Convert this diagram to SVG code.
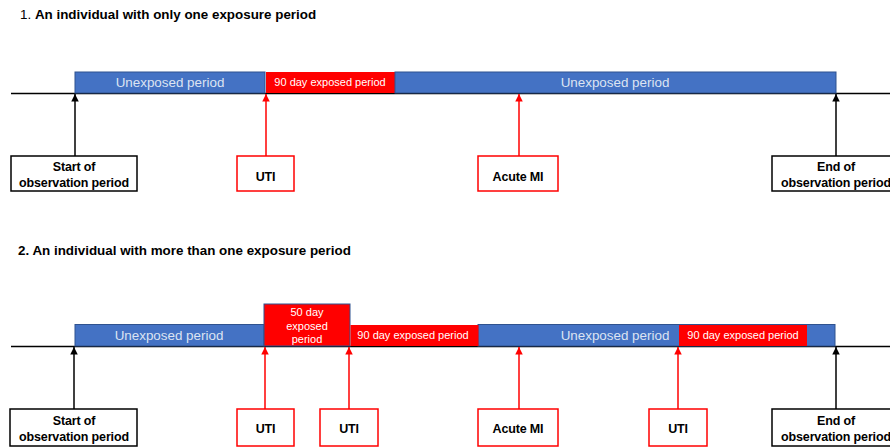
<svg xmlns="http://www.w3.org/2000/svg" width="890" height="448" viewBox="0 0 890 448">
<style>
.title{font-family:"Liberation Sans",Arial,sans-serif;font-size:13.4px;font-weight:bold;fill:#000}
.tl{stroke:#000;stroke-width:1.5;fill:none}
.blue{fill:#4472C4;stroke:#2F528F;stroke-width:1}
.red{fill:#FF0000;stroke:none}
.redb{fill:#FF0000;stroke:#2F528F;stroke-width:1}
.ut{font-family:"Liberation Sans",Arial,sans-serif;font-size:13.4px;fill:#DCE4F2;text-anchor:middle}
.et{font-family:"Liberation Sans",Arial,sans-serif;font-size:11px;fill:#FFFFFF;text-anchor:middle}
.bbox{fill:#fff;stroke:#000;stroke-width:1.5}
.rbox{fill:#fff;stroke:#FF0000;stroke-width:1.5}
.lbl{font-family:"Liberation Sans",Arial,sans-serif;font-size:12.5px;font-weight:bold;fill:#000;text-anchor:middle;letter-spacing:-0.15px}
.ab{stroke:#000;stroke-width:1.5;fill:none}
.ar{stroke:#FF0000;stroke-width:1.5;fill:none}
</style>
<defs>
<marker id="mb" viewBox="0 0 8 8" refX="8" refY="4" markerWidth="5" markerHeight="5" orient="auto" markerUnits="strokeWidth"><path d="M0,0 L8,4 L0,8 z" fill="#000"/></marker>
<marker id="mr" viewBox="0 0 8 8" refX="8" refY="4" markerWidth="5" markerHeight="5" orient="auto" markerUnits="strokeWidth"><path d="M0,0 L8,4 L0,8 z" fill="#FF0000"/></marker>
</defs>

<!-- Diagram 1 -->
<text class="title" x="20" y="19"><tspan font-weight="normal">1. </tspan>An individual with only one exposure period</text>
<line class="tl" x1="11" y1="93.5" x2="890" y2="93.5"/>
<g id="d1-unexp1"><rect class="blue" x="75" y="72" width="190" height="21"/><text class="ut" x="170" y="87">Unexposed period</text></g>
<g id="d1-exp90"><rect class="red" x="266" y="72" width="129" height="21"/><text class="et" x="330" y="86">90 day exposed period</text></g>
<g id="d1-unexp2"><rect class="blue" x="395" y="72" width="441" height="21"/><text class="ut" x="615" y="87">Unexposed period</text></g>

<g id="d1-start"><rect class="bbox" x="11" y="156" width="126" height="35"/><text class="lbl" x="74" y="171">Start of</text><text class="lbl" x="74" y="187">observation period</text></g>
<g id="d1-uti"><rect class="rbox" x="237" y="156" width="57" height="35"/><text class="lbl" x="265.5" y="181">UTI</text></g>
<g id="d1-ami"><rect class="rbox" x="478" y="156" width="80" height="35"/><text class="lbl" x="518" y="181">Acute MI</text></g>
<g id="d1-end"><rect class="bbox" x="772" y="156" width="127" height="35"/><text class="lbl" x="836" y="171">End of</text><text class="lbl" x="836" y="187">observation period</text></g>

<g id="connectors1">
<line class="ab" x1="75" y1="156" x2="75" y2="94" marker-end="url(#mb)"/>
<line class="ar" x1="266" y1="156" x2="266" y2="94" marker-end="url(#mr)"/>
<line class="ar" x1="519" y1="156" x2="519" y2="94" marker-end="url(#mr)"/>
<line class="ab" x1="836" y1="156" x2="836" y2="94" marker-end="url(#mb)"/>
</g>

<!-- Diagram 2 -->
<text class="title" x="18" y="255">2. An individual with more than one exposure period</text>
<line class="tl" x1="11" y1="346.5" x2="890" y2="346.5"/>
<g id="d2-unexp1"><rect class="blue" x="75" y="324.5" width="189" height="21.5"/><text class="ut" x="169" y="340">Unexposed period</text></g>
<g id="d2-unexp2"><rect class="blue" x="478" y="324.5" width="357" height="21.5"/><text class="ut" x="615" y="340">Unexposed period</text></g>
<g id="d2-exp50"><rect class="redb" x="264" y="304" width="86" height="42"/><text class="et" x="307" y="316">50 day</text><text class="et" x="307" y="329.5">exposed</text><text class="et" x="307" y="343">period</text></g>
<g id="d2-exp90a"><rect class="red" x="350.5" y="325" width="128" height="21"/><text class="et" x="413" y="339">90 day exposed period</text></g>
<g id="d2-exp90b"><rect class="red" x="679" y="325" width="128" height="21"/><text class="et" x="743" y="339">90 day exposed period</text></g>

<g id="d2-start"><rect class="bbox" x="10" y="409" width="127" height="37"/><text class="lbl" x="74" y="425">Start of</text><text class="lbl" x="74" y="441">observation period</text></g>
<g id="d2-uti1"><rect class="rbox" x="237" y="409" width="57" height="37"/><text class="lbl" x="265.5" y="433">UTI</text></g>
<g id="d2-uti2"><rect class="rbox" x="320" y="409" width="58" height="37"/><text class="lbl" x="349" y="433">UTI</text></g>
<g id="d2-ami"><rect class="rbox" x="478" y="409" width="80" height="37"/><text class="lbl" x="518" y="433">Acute MI</text></g>
<g id="d2-uti3"><rect class="rbox" x="649" y="409" width="58" height="37"/><text class="lbl" x="678" y="433">UTI</text></g>
<g id="d2-end"><rect class="bbox" x="772" y="409" width="127" height="37"/><text class="lbl" x="836" y="425">End of</text><text class="lbl" x="836" y="441">observation period</text></g>

<g id="connectors2">
<line class="ab" x1="74" y1="409" x2="74" y2="347" marker-end="url(#mb)"/>
<line class="ar" x1="265" y1="409" x2="265" y2="347" marker-end="url(#mr)"/>
<line class="ar" x1="349" y1="409" x2="349" y2="347" marker-end="url(#mr)"/>
<line class="ar" x1="519" y1="409" x2="519" y2="347" marker-end="url(#mr)"/>
<line class="ar" x1="678" y1="409" x2="678" y2="347" marker-end="url(#mr)"/>
<line class="ab" x1="836" y1="409" x2="836" y2="347" marker-end="url(#mb)"/>
</g>
</svg>
